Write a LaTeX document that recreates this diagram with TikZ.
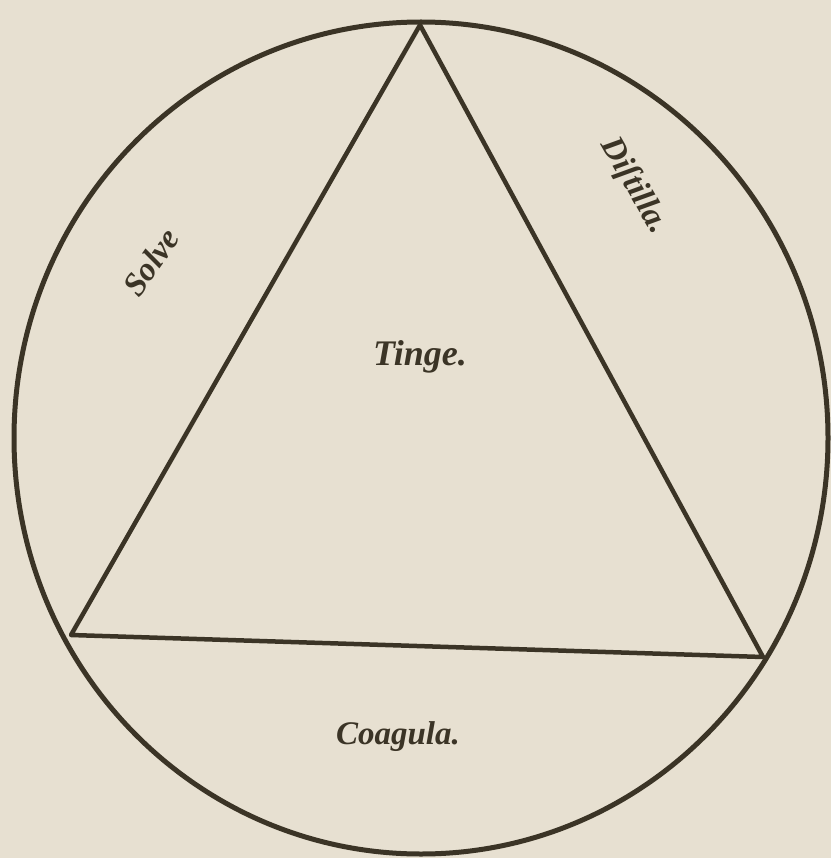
\documentclass[tikz,border=0pt]{standalone}
\usepackage{fontspec}
\setmainfont{Liberation Serif}
\definecolor{paper}{HTML}{E7E0D1}
\definecolor{ink}{HTML}{3B3426}
\tikzset{
  ring/.style={draw=ink, line width=5pt},
  side/.style={draw=ink, line width=4.5pt, line join=round, line cap=round},
  word/.style={text=ink, font=\fontsize{33}{35}\selectfont\bfseries\itshape, inner sep=0pt}
}
\begin{document}
\begin{tikzpicture}[x=1pt,y=-1pt]
\fill[paper] (0,0) rectangle (831,858);
\useasboundingbox (0,0) rectangle (831,858);
\coordinate (c) at (421,438);
\draw[ring] (c) ellipse [x radius=407, y radius=416];
\coordinate (top) at (420,25);
\coordinate (bl) at (71,635);
\coordinate (br) at (763,657);
\draw[side] (top) -- (bl) -- (br) -- cycle;
\node[word, rotate=55] (solve) at (151,262) {Solve};
\node[word, rotate=-60] (distilla) at (634,186) {Diſtilla.};
\node[word, font=\fontsize{36}{38}\selectfont\bfseries\itshape] (tinge) at (420,357) {Tinge.};
\node[word] (coagula) at (398,737) {Coagula.};
\end{tikzpicture}
\end{document}
